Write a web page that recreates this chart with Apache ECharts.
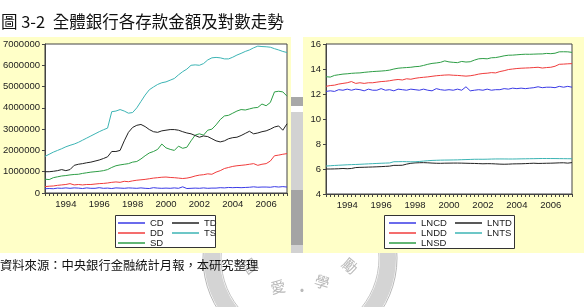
<!DOCTYPE html>
<html>
<head>
<meta charset="utf-8">
<script src="https://cdn.jsdelivr.net/npm/echarts@6/dist/echarts.min.js"></script>
<style>
  html, body { margin: 0; padding: 0; background: #fff; }
  #main { width: 584px; height: 307px; }
</style>
</head>
<body>
<div id="main"></div>
<script>
// quarterly observations, 1992Q4 .. 2007Q2 (values in millions)
const FIRST_YEAR = 1992, FIRST_Q = 4, N = 59;
const quarters = [];
for (let i = 0; i < N; i++) {
  const q = FIRST_Q - 1 + i;
  quarters.push((FIRST_YEAR + Math.floor(q / 4)) + "Q" + (q % 4 + 1));
}
const UNIT = 1000000;

const cd = [0.2,0.21,0.2,0.23,0.22, 0.24,0.22,0.24,0.23, 0.21,0.24,0.22,0.22, 0.25,0.22,0.23,0.21,
  0.24,0.23,0.22,0.24, 0.23,0.22,0.24,0.22, 0.21,0.25,0.23,0.22, 0.23,0.22,0.24,0.22,
  0.29,0.21,0.22,0.23, 0.22,0.24,0.22,0.23, 0.23,0.25,0.24,0.26, 0.25,0.26,0.25,0.26,
  0.27,0.29,0.27,0.28, 0.28,0.27,0.3,0.28, 0.3,0.28];
const dd = [0.3,0.32,0.33,0.36,0.38, 0.4,0.44,0.38,0.4, 0.38,0.4,0.4,0.42, 0.44,0.45,0.47,0.5,
  0.52,0.5,0.55,0.53, 0.57,0.6,0.62,0.64, 0.67,0.7,0.72,0.74, 0.75,0.73,0.72,0.7,
  0.68,0.7,0.74,0.8, 0.84,0.86,0.9,0.88, 0.98,1.05,1.15,1.2, 1.25,1.28,1.3,1.32,
  1.35,1.38,1.3,1.35, 1.38,1.5,1.75,1.78, 1.82,1.85];
const sd = [0.65,0.63,0.72,0.76,0.8, 0.82,0.85,0.87,0.88, 0.92,0.95,0.98,1.0, 1.02,1.05,1.1,1.2,
  1.28,1.32,1.35,1.38, 1.45,1.48,1.6,1.75, 1.88,1.95,2.05,2.3, 2.12,2.05,2.0,2.2,
  2.1,2.15,2.45,2.72, 2.78,2.72,2.95,3.0, 3.2,3.45,3.62,3.65, 3.75,3.85,3.92,3.9,
  3.95,4.0,4.02,4.18, 4.1,4.25,4.75,4.78, 4.75,4.55];
const td = [1.0,1.0,1.02,1.05,1.1, 1.05,1.1,1.3,1.35, 1.38,1.42,1.45,1.5, 1.55,1.62,1.7,1.95,
  1.95,2.0,2.45,2.85, 3.08,3.18,3.22,3.12, 2.98,2.88,2.85,2.92, 2.95,2.98,2.98,2.95,
  2.88,2.82,2.78,2.7, 2.62,2.68,2.65,2.55, 2.45,2.4,2.45,2.55, 2.6,2.62,2.7,2.8,
  2.9,2.78,2.82,2.88, 2.92,3.0,3.1,3.15, 2.95,3.25];
const ts = [1.72,1.82,1.92,2.0,2.08, 2.17,2.24,2.3,2.38, 2.48,2.58,2.68,2.78, 2.88,2.97,3.05,3.82,
  3.85,3.92,3.85,3.75, 3.78,4.0,4.3,4.6, 4.85,4.98,5.1,5.18, 5.22,5.3,5.38,5.55,
  5.7,5.82,6.0,6.02, 6.0,6.08,6.25,6.35, 6.37,6.35,6.3,6.3, 6.38,6.48,6.56,6.65,
  6.72,6.82,6.9,6.88, 6.87,6.85,6.78,6.72, 6.65,6.6];

const colors = { CD: "#3a3ae6", DD: "#f03c3c", SD: "#2e9e46", TD: "#222222", TS: "#3cb4b4" };
const leftTicks = [0, 1000000, 2000000, 3000000, 4000000, 5000000, 6000000, 7000000];
const rightTicks = [4, 6, 8, 10, 12, 14, 16];

const myChart = echarts.init(document.getElementById("main"));
const font = "Liberation Sans";

function xAxis(gridIndex) {
  return {
    type: "category", gridIndex: gridIndex, data: quarters, boundaryGap: false,
    axisLine: { lineStyle: { color: "#444", width: 1 } },
    axisTick: { interval: 0, length: 3, lineStyle: { color: "#444" } },
    axisLabel: {
      interval: (i, v) => v.endsWith("Q1") && (+v.slice(0, 4)) % 2 === 0,
      formatter: (v) => v.slice(0, 4),
      fontFamily: font, fontSize: 9.5, color: "#222", margin: 6,
    },
    splitLine: { show: false },
  };
}
function yAxis(gridIndex, ticks, fmt) {
  return {
    type: "value", gridIndex: gridIndex,
    min: ticks[0], max: ticks[ticks.length - 1], interval: ticks[1] - ticks[0],
    axisLine: { show: true, lineStyle: { color: "#444", width: 1 } },
    axisTick: { show: true, length: 3, lineStyle: { color: "#444" } },
    axisLabel: { formatter: fmt, fontFamily: font, fontSize: 9.5, color: "#222", margin: 5 },
    splitLine: { show: false },
  };
}
function line(name, data, xi, color) {
  return {
    name: name, type: "line", xAxisIndex: xi, yAxisIndex: xi, data: data,
    showSymbol: false, symbol: "none", lineStyle: { width: 1, color: color },
    itemStyle: { color: color }, animation: false,
  };
}
function legend(names, left, top) {
  return {
    data: names, orient: "vertical", left: left, top: top, padding: 0,
    itemGap: 0, itemWidth: 27, itemHeight: 1.5, icon: "rect", selectedMode: false,
    textStyle: { fontFamily: font, fontSize: 9.5, lineHeight: 10, color: "#222" },
  };
}

let option = {
  backgroundColor: "#fff",
  animation: false,
  title: {
    text: "圖 3-2  全體銀行各存款金額及對數走勢", left: 1, top: 13, padding: 0,
    textStyle: { fontFamily: "Noto Sans CJK TC", fontSize: 16.5, fontWeight: "normal", color: "#111" },
  },
  grid: [
    { left: 44, top: 44, width: 243, height: 149, show: true, backgroundColor: "#fff", borderColor: "#444", borderWidth: 1 },
    { left: 326, top: 44, width: 246, height: 150, show: true, backgroundColor: "#fff", borderColor: "#444", borderWidth: 1 },
  ],
  xAxis: [xAxis(0), xAxis(1)],
  yAxis: [yAxis(0, leftTicks, (v) => String(v)), yAxis(1, rightTicks, (v) => String(v))],
  legend: [
    legend(["CD", "DD", "SD"], 118, 218),
    legend(["TD", "TS"], 172, 218),
    legend(["LNCD", "LNDD", "LNSD"], 389, 218),
    legend(["LNTD", "LNTS"], 455, 218),
  ],
  graphic: [
    // seal watermark behind panels
    { type: "circle", shape: { cx: 300, cy: 258, r: 88 }, style: { fill: null, stroke: "#d4d4d4", lineWidth: 16 }, z: -20 },
    { type: "circle", shape: { cx: 300, cy: 258, r: 97 }, style: { fill: null, stroke: "#b8b8b8", lineWidth: 1 }, z: -20 },
    { type: "circle", shape: { cx: 300, cy: 258, r: 79 }, style: { fill: null, stroke: "#c4c4c4", lineWidth: 1 }, z: -20 },
    { type: "text", x: 250, y: 266, rotation: 0.6, style: { text: "國", fill: "#b9b9b9", font: "15px 'Noto Sans CJK TC'", align: "center", verticalAlign: "middle" }, z: -15 },
    { type: "text", x: 278, y: 287, rotation: 0.2, style: { text: "愛", fill: "#b9b9b9", font: "15px 'Noto Sans CJK TC'", align: "center", verticalAlign: "middle" }, z: -15 },
    { type: "text", x: 302, y: 290, style: { text: "·", fill: "#b9b9b9", font: "15px 'Noto Sans CJK TC'", align: "center", verticalAlign: "middle" }, z: -15 },
    { type: "text", x: 322, y: 282, rotation: -0.3, style: { text: "學", fill: "#b9b9b9", font: "15px 'Noto Sans CJK TC'", align: "center", verticalAlign: "middle" }, z: -15 },
    { type: "text", x: 350, y: 266, rotation: -0.7, style: { text: "勵", fill: "#b9b9b9", font: "15px 'Noto Sans CJK TC'", align: "center", verticalAlign: "middle" }, z: -15 },
    { type: "rect", shape: { x: 291, y: 97, width: 12, height: 9 }, style: { fill: "#a8a8a8" }, z: -15 },
    { type: "rect", shape: { x: 291, y: 112, width: 12, height: 141 }, style: { fill: "#d2d2d2" }, z: -15 },
    { type: "rect", shape: { x: 291, y: 190, width: 12, height: 55 }, style: { fill: "#a4a4a4" }, z: -14 },
    // yellow panels
    { type: "rect", shape: { x: 0, y: 37, width: 291, height: 216 }, style: { fill: "#ffffc8" }, z: -10 },
    { type: "rect", shape: { x: 303, y: 37, width: 281, height: 216 }, style: { fill: "#ffffc8" }, z: -10 },
    // legend boxes
    { type: "rect", shape: { x: 115.5, y: 215.5, width: 100, height: 32 }, style: { fill: "#fff", stroke: "#333", lineWidth: 1 }, z: 3 },
    { type: "rect", shape: { x: 384.5, y: 215.5, width: 130, height: 33 }, style: { fill: "#fff", stroke: "#333", lineWidth: 1 }, z: 3 },
    // source note
    { type: "text", x: 0, y: 265, style: { text: "資料來源：中央銀行金融統計月報，本研究整理", fill: "#111", font: "12.3px 'Noto Sans CJK TC'", verticalAlign: "middle" }, z: 5 },
  ],
  series: [
    line("CD", cd.map((v) => v * UNIT), 0, colors.CD),
    line("DD", dd.map((v) => v * UNIT), 0, colors.DD),
    line("SD", sd.map((v) => v * UNIT), 0, colors.SD),
    line("TD", td.map((v) => v * UNIT), 0, colors.TD),
    line("TS", ts.map((v) => v * UNIT), 0, colors.TS),
    // right panel: natural log for CD/DD/SD, base-10 log for TD/TS (as in the source)
    line("LNCD", cd.map((v) => Math.log(v * UNIT)), 1, colors.CD),
    line("LNDD", dd.map((v) => Math.log(v * UNIT)), 1, colors.DD),
    line("LNSD", sd.map((v) => Math.log(v * UNIT)), 1, colors.SD),
    line("LNTD", td.map((v) => Math.log10(v * UNIT)), 1, colors.TD),
    line("LNTS", ts.map((v) => Math.log10(v * UNIT)), 1, colors.TS),
  ],
};

myChart.setOption(option);
</script>
</body>
</html>
